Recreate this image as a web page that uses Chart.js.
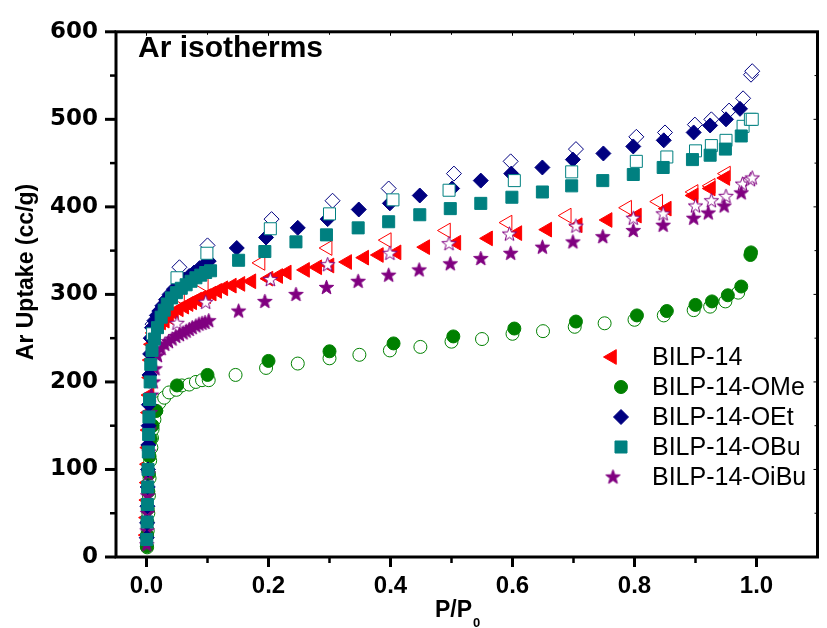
<!DOCTYPE html>
<html>
<head>
<meta charset="utf-8">
<script src="https://cdn.jsdelivr.net/npm/chart.js@4.4.1/dist/chart.umd.min.js"></script>
<style>
  html, body { margin: 0; padding: 0; background: #fff; }
  #wrap { width: 827px; height: 628px; }
</style>
</head>
<body>
<div id="wrap"><canvas id="arChart" width="827" height="628"></canvas></div>
<script>
// Ar isotherms of BILP-14 family, [P/P0, uptake cc/g]
// ads = filled markers, des = open markers
const bilp14Ads = [[0.0005,25],[0.001,45],[0.0015,65],[0.002,85],[0.0025,106],[0.003,125],[0.0035,145],[0.004,165],[0.005,185],[0.006,205],[0.007,225],[0.009,243],[0.012,256],[0.018,264],[0.024,268],[0.03,270],[0.037,274],[0.045,279],[0.053,283],[0.062,286],[0.069,289],[0.075,291],[0.083,294],[0.09,296],[0.098,298],[0.107,301],[0.116,304],[0.126,307],[0.14,310],[0.154,312],[0.172,315],[0.2,318],[0.216,321],[0.23,325],[0.26,328],[0.28,331],[0.3,333],[0.329,337],[0.357,342],[0.381,345],[0.41,348],[0.457,354],[0.508,359],[0.56,364],[0.608,370],[0.657,374],[0.707,379],[0.756,385],[0.804,390],[0.853,398],[0.897,413],[0.925,421],[0.949,433]];
const bilp14Des = [[0.055,296],[0.094,311],[0.187,336],[0.297,353],[0.394,362],[0.491,373],[0.592,382],[0.689,390],[0.788,399],[0.839,406],[0.897,417],[0.925,424],[0.95,438]];

const omeAds = [[0.0005,12],[0.001,25],[0.0015,40],[0.002,55],[0.003,75],[0.004,95],[0.005,115],[0.007,135],[0.01,150],[0.016,167],[0.05,196],[0.1,208],[0.2,224],[0.3,235],[0.405,244],[0.503,252],[0.603,261],[0.704,269],[0.804,276],[0.853,281],[0.9,288],[0.927,292],[0.953,299],[0.975,309],[0.99,345],[0.991,348]];
const omeDes = [[0.001,11],[0.002,30],[0.003,50],[0.004,70],[0.005,90],[0.006,110],[0.008,125],[0.009,136],[0.01,146],[0.013,157],[0.016,167],[0.021,176],[0.029,182],[0.037,188],[0.049,191],[0.058,196],[0.07,197],[0.081,200],[0.091,202],[0.102,202],[0.146,208],[0.196,216],[0.248,221],[0.3,227],[0.349,231],[0.399,236],[0.449,240],[0.5,246],[0.55,249],[0.6,255],[0.65,258],[0.702,263],[0.751,267],[0.8,271],[0.848,276],[0.897,282],[0.924,286],[0.949,292],[0.97,302]];

const oetAds = [[0.0005,22],[0.001,39],[0.0015,58],[0.002,80],[0.0025,100],[0.003,128],[0.0035,150],[0.004,174],[0.005,208],[0.006,232],[0.007,250],[0.009,262],[0.013,270],[0.017,276],[0.021,281],[0.026,287],[0.032,294],[0.038,300],[0.045,306],[0.053,312],[0.062,317],[0.07,321],[0.078,325],[0.087,330],[0.095,334],[0.102,338],[0.148,353],[0.196,365],[0.248,376],[0.297,386],[0.348,397],[0.399,404],[0.448,413],[0.501,421],[0.548,430],[0.598,438],[0.649,445],[0.699,454],[0.749,461],[0.798,469],[0.848,476],[0.897,485],[0.924,493],[0.95,500],[0.973,512]];
const oetDes = [[0.01,266],[0.054,331],[0.1,356],[0.205,386],[0.305,407],[0.397,421],[0.504,438],[0.597,452],[0.704,466],[0.803,480],[0.85,485],[0.899,494],[0.926,500],[0.955,510],[0.978,524],[0.991,551],[0.993,555]];

const obuAds = [[0.0005,20],[0.001,40],[0.0015,60],[0.002,80],[0.0025,100],[0.003,120],[0.0035,140],[0.004,160],[0.005,180],[0.006,200],[0.007,220],[0.009,236],[0.013,249],[0.018,262],[0.024,274],[0.029,282],[0.034,289],[0.041,296],[0.049,302],[0.057,307],[0.065,311],[0.073,315],[0.081,319],[0.089,322],[0.097,325],[0.105,327],[0.151,339],[0.194,349],[0.245,360],[0.295,368],[0.347,376],[0.397,383],[0.448,391],[0.498,398],[0.548,404],[0.599,411],[0.649,417],[0.697,424],[0.748,430],[0.798,437],[0.847,445],[0.895,454],[0.924,459],[0.949,466],[0.975,481]];
const obuDes = [[0.01,255],[0.05,319],[0.099,347],[0.203,375],[0.3,392],[0.404,408],[0.496,419],[0.603,430],[0.697,440],[0.803,452],[0.853,457],[0.9,464],[0.926,470],[0.95,476],[0.978,492],[0.99,500],[0.993,500]];

const oibuAds = [[0.0005,14],[0.001,30],[0.0015,50],[0.002,70],[0.003,95],[0.004,120],[0.005,145],[0.006,165],[0.008,185],[0.011,200],[0.014,215],[0.018,230],[0.024,238],[0.03,243],[0.036,246],[0.042,249],[0.048,252],[0.054,254],[0.06,256],[0.065,258],[0.07,260],[0.075,262],[0.081,264],[0.086,266],[0.091,267],[0.096,268],[0.102,270],[0.151,281],[0.194,292],[0.245,300],[0.295,308],[0.347,315],[0.397,322],[0.447,328],[0.498,335],[0.548,341],[0.597,347],[0.649,354],[0.699,360],[0.748,366],[0.798,373],[0.847,379],[0.897,387],[0.921,393],[0.947,401],[0.975,416]];
const oibuDes = [[0.05,267],[0.097,291],[0.203,317],[0.297,334],[0.399,347],[0.496,358],[0.595,369],[0.704,378],[0.798,387],[0.847,392],[0.9,401],[0.926,407],[0.95,412],[0.977,426],[0.99,431],[0.993,433]];

const seriesNames = ['BILP-14', 'BILP-14-OMe', 'BILP-14-OEt', 'BILP-14-OBu', 'BILP-14-OiBu'];
const xMajorTicks = [0, 0.2, 0.4, 0.6, 0.8, 1.0];
const xMinorTicks = [0.1, 0.3, 0.5, 0.7, 0.9];
const yMajorTicks = [0, 100, 200, 300, 400, 500, 600];
const yMinorTicks = [50, 150, 250, 350, 450, 550];

// five point star as a point image
function makeStar(fill, stroke) {
    const c = document.createElement('canvas');
    c.width = 17; c.height = 17;
    const g = c.getContext('2d');
    const R = 7.6, r = 3.1;
    g.beginPath();
    for (let i = 0; i < 10; i++) {
        const rad = (i % 2 === 0) ? R : r;
        const a = -Math.PI / 2 + i * Math.PI / 5;
        const px = 8.5 + rad * Math.cos(a), py = 8.8 + rad * Math.sin(a);
        if (i === 0) g.moveTo(px, py); else g.lineTo(px, py);
    }
    g.closePath();
    g.fillStyle = fill;
    g.fill();
    g.lineWidth = 1;
    g.strokeStyle = stroke;
    g.stroke();
    return c;
}

const styles = [
    { color: '#ff0000', shape: 'triangle', radius: 8.5, rotation: -90 },
    { color: '#008000', shape: 'circle', radius: 6.5, rotation: 0 },
    { color: '#000080', shape: 'rectRot', radius: 7.5, rotation: 0 },
    { color: '#008080', shape: 'rect', radius: 8.5, rotation: 0 },
    { color: '#800080', shape: 'star', radius: 8, rotation: 0 }
];
const starFilled = makeStar('#800080', '#800080');
const starOpen = makeStar('#ffffff', '#800080');

const branches = [
    [bilp14Ads, bilp14Des],
    [omeAds, omeDes],
    [oetAds, oetDes],
    [obuAds, obuDes],
    [oibuAds, oibuDes]
];
// painting sequence, bottom to top: BILP-14, OMe, OiBu, OEt, OBu
const paintSeq = [0, 1, 4, 2, 3];

const toPts = arr => arr.map(p => ({ x: p[0], y: p[1] }));

const datasets = [];
let drawIdx = 0;
paintSeq.forEach(i => {
    const st = styles[i];
    const br = branches[i];
    // desorption (open) first, adsorption (filled) on top of it
    [[br[1], true], [br[0], false]].forEach(([pts, open]) => {
        const isStar = st.shape === 'star';
        datasets.push({
            label: seriesNames[i] + (open ? ' des' : ''),
            data: toPts(pts),
            pointStyle: isStar ? (open ? starOpen : starFilled) : st.shape,
            pointRadius: st.radius,
            pointRotation: st.rotation,
            pointBackgroundColor: open ? '#ffffff' : st.color,
            pointBorderColor: st.color,
            pointBorderWidth: 1,
            showLine: false,
            order: 100 - drawIdx
        });
        drawIdx++;
    });
});

function drawMarker(ctx, st, open, x, y) {
    if (st.shape === 'star') {
        const img = open ? starOpen : starFilled;
        ctx.drawImage(img, x - img.width / 2, y - img.height / 2);
        return;
    }
    ctx.fillStyle = open ? '#ffffff' : st.color;
    ctx.strokeStyle = st.color;
    ctx.lineWidth = 1;
    Chart.helpers.drawPoint(ctx, { pointStyle: st.shape, radius: st.radius, rotation: st.rotation, borderWidth: 1 }, x, y);
}

const decor = {
    id: 'decor',
    afterDraw(chart) {
        const ctx = chart.ctx;
        const a = chart.chartArea;
        const xs = chart.scales.x, ys = chart.scales.y;
        ctx.save();
        ctx.strokeStyle = '#000';
        ctx.lineCap = 'butt';
        const seg = (x1, y1, x2, y2, w) => {
            ctx.lineWidth = w;
            ctx.beginPath(); ctx.moveTo(x1, y1); ctx.lineTo(x2, y2); ctx.stroke();
        };
        xMajorTicks.forEach(v => {
            const p = xs.getPixelForValue(v);
            seg(p, a.bottom, p, a.bottom + 10, 3);
            seg(p, a.top, p, a.top + 4, 1);
        });
        xMinorTicks.forEach(v => {
            const p = xs.getPixelForValue(v);
            seg(p, a.bottom, p, a.bottom + 6, 2.5);
            seg(p, a.top, p, a.top + 3, 1);
        });
        yMajorTicks.forEach(v => {
            const p = ys.getPixelForValue(v);
            seg(a.left, p, a.left - 11, p, 3);
            seg(a.right, p, a.right - 4, p, 1);
        });
        yMinorTicks.forEach(v => {
            const p = ys.getPixelForValue(v);
            seg(a.left, p, a.left - 6, p, 2.5);
            seg(a.right, p, a.right - 3, p, 1);
        });
        ctx.lineWidth = 3;
        ctx.strokeRect(a.left, a.top, a.right - a.left, a.bottom - a.top);

        ctx.fillStyle = '#000';
        // plot title inside the frame
        ctx.font = 'bold 30px "Liberation Sans", Arial, sans-serif';
        ctx.textAlign = 'left';
        ctx.textBaseline = 'alphabetic';
        ctx.fillText('Ar isotherms', 138, 57);

        // x axis title with subscript
        ctx.font = 'bold 23px "Liberation Sans", Arial, sans-serif';
        ctx.fillText('P/P', 435, 617);
        const w = ctx.measureText('P/P').width;
        ctx.font = 'bold 13px "Liberation Sans", Arial, sans-serif';
        ctx.fillText('0', 435 + w + 1, 627);

        // y axis title
        ctx.save();
        ctx.translate(27, 272);
        ctx.rotate(-Math.PI / 2);
        ctx.font = 'bold 23px "Liberation Sans", Arial, sans-serif';
        ctx.textAlign = 'center';
        ctx.textBaseline = 'middle';
        ctx.fillText('Ar Uptake (cc/g)', 0, 0);
        ctx.restore();

        // legend
        const legY = [357, 387, 417, 447, 477];
        const legX = [612, 621, 621, 621, 613];
        ctx.font = '25px "Liberation Sans", Arial, sans-serif';
        seriesNames.forEach((name, i) => {
            drawMarker(ctx, styles[i], false, legX[i], legY[i]);
            ctx.fillStyle = '#000';
            ctx.textAlign = 'left';
            ctx.textBaseline = 'middle';
            ctx.fillText(name, 652, legY[i] + 1);
        });
        ctx.restore();
    }
};

new Chart(document.getElementById('arChart').getContext('2d'), {
    type: 'scatter',
    data: { datasets: datasets },
    options: {
        responsive: false,
        animation: false,
        devicePixelRatio: 1,
        layout: { padding: { top: 23, right: 3, left: 0, bottom: 0 } },
        plugins: { legend: { display: false }, tooltip: { enabled: false } },
        scales: {
            x: {
                type: 'linear',
                min: -0.05,
                max: 1.1,
                afterFit: s => { s.height = 71; },
                afterBuildTicks: s => { s.ticks = xMajorTicks.map(v => ({ value: v })); },
                grid: { display: false, drawTicks: false },
                border: { display: false },
                ticks: {
                    padding: 15,
                    color: '#000',
                    font: { family: '"Liberation Sans", Arial, sans-serif', weight: 'bold', size: 24 },
                    callback: v => Number(v).toFixed(1)
                }
            },
            y: {
                type: 'linear',
                min: 0,
                max: 600,
                afterFit: s => { s.width = 116; },
                afterBuildTicks: s => { s.ticks = yMajorTicks.map(v => ({ value: v })); },
                grid: { display: false, drawTicks: false },
                border: { display: false },
                ticks: {
                    padding: 18,
                    color: '#000',
                    font: { family: '"DejaVu Sans", sans-serif', weight: 'bold', size: 23 },
                    callback: v => String(v)
                }
            }
        }
    },
    plugins: [decor]
});
</script>
</body>
</html>
